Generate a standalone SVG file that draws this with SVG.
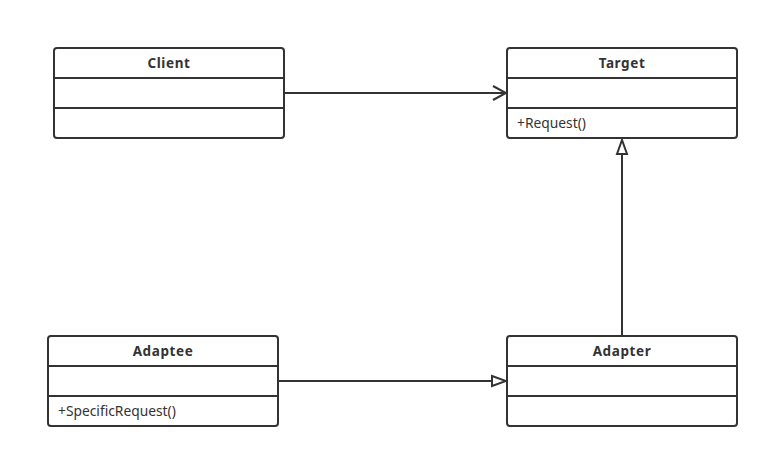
<svg xmlns="http://www.w3.org/2000/svg" width="769" height="458" viewBox="0 0 769 458">
<style>
.box{fill:#fff;stroke:#333;stroke-width:2}
.div{stroke:#333;stroke-width:2}
.title{font-family:"Noto Sans","Open Sans",sans-serif;font-size:13.5px;font-weight:bold;fill:#333;text-anchor:middle;letter-spacing:0.6px}
.op{font-family:"Noto Sans","Open Sans",sans-serif;font-size:13.8px;fill:#333}
.conn{stroke:#333;stroke-width:2;fill:none}
</style>
<defs>
<marker id="open" markerWidth="16" markerHeight="16" refX="14" refY="8" orient="auto" markerUnits="userSpaceOnUse">
<path d="M1,1 L14,8 L1,15" fill="none" stroke="#333" stroke-width="2"/>
</marker>
<marker id="tri" markerWidth="18" markerHeight="14" refX="16" refY="7" orient="auto" markerUnits="userSpaceOnUse">
<path d="M2,2 L16,7 L2,12 Z" fill="#fff" stroke="#333" stroke-width="2"/>
</marker>
</defs>
<rect width="769" height="458" fill="#fff"/>
<g id="client">
<rect class="box" x="54" y="48" width="230" height="90" rx="3"/>
<line class="div" x1="54" y1="78" x2="284" y2="78"/>
<line class="div" x1="54" y1="108" x2="284" y2="108"/>
<text class="title" x="169" y="68">Client</text>
</g>
<g id="target">
<rect class="box" x="507" y="48" width="230" height="90" rx="3"/>
<line class="div" x1="507" y1="78" x2="737" y2="78"/>
<line class="div" x1="507" y1="108" x2="737" y2="108"/>
<text class="title" x="622" y="68">Target</text>
<text class="op" x="517" y="128">+Request()</text>
</g>
<g id="adaptee">
<rect class="box" x="48" y="336" width="230" height="90" rx="3"/>
<line class="div" x1="48" y1="366" x2="278" y2="366"/>
<line class="div" x1="48" y1="396" x2="278" y2="396"/>
<text class="title" x="163" y="356">Adaptee</text>
<text class="op" x="58" y="416">+SpecificRequest()</text>
</g>
<g id="adapter">
<rect class="box" x="507" y="336" width="230" height="90" rx="3"/>
<line class="div" x1="507" y1="366" x2="737" y2="366"/>
<line class="div" x1="507" y1="396" x2="737" y2="396"/>
<text class="title" x="622" y="356">Adapter</text>
</g>
<g id="connectors">
<line class="conn" x1="285" y1="93" x2="506" y2="93" marker-end="url(#open)"/>
<line class="conn" x1="279" y1="381" x2="506" y2="381" marker-end="url(#tri)"/>
<line class="conn" x1="622" y1="335" x2="622" y2="140" marker-end="url(#tri)"/>
</g>
</svg>
